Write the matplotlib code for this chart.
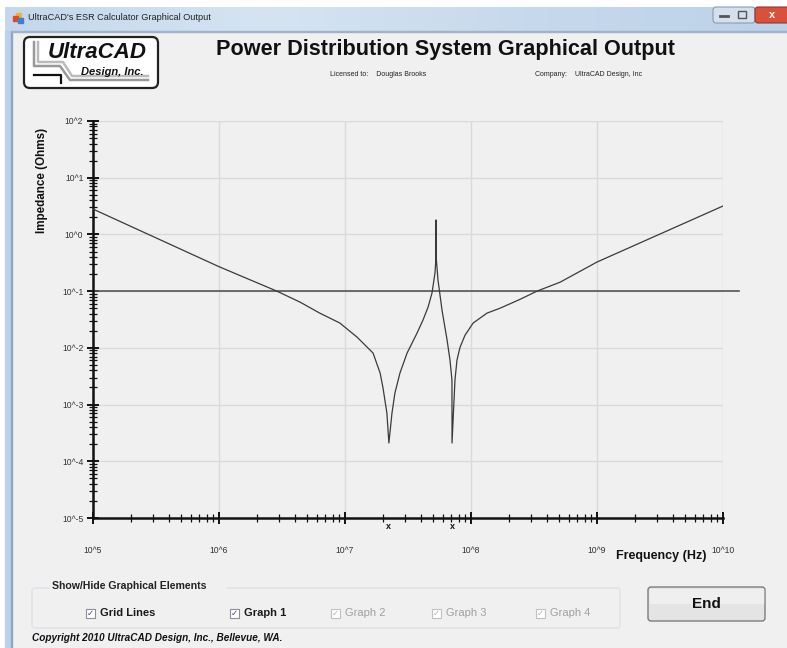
import numpy as np
import matplotlib
matplotlib.use('Agg')
import matplotlib.pyplot as plt
from matplotlib.patches import Rectangle, FancyBboxPatch
from matplotlib.ticker import FixedLocator, LogLocator, NullFormatter

plt.rcParams['font.family'] = ['Liberation Sans', 'DejaVu Sans']

# impedance curve (Hz, Ohms)
freq_hz = [1.0e5, 1.0e6, 2.88e6, 4.4e6, 6.3e6, 9.1e6, 1.245e7, 1.67e7, 1.9e7, 2.0e7,
           2.15e7, 2.23e7, 2.36e7, 2.49e7, 2.73e7, 3.11e7, 3.73e7, 4.16e7, 4.56e7,
           4.9e7, 5.18e7, 5.27e7, 5.27e7, 5.3e7, 5.47e7, 5.89e7, 6.46e7, 6.81e7,
           7.06e7, 7.07e7, 7.46e7, 7.74e7, 8.18e7, 8.96e7, 1.04e8, 1.34e8, 1.7e8,
           2.45e8, 3.34e8, 5.1e8, 1.0e9, 1.0e10]
impedance = [2.8, 0.27, 0.1, 0.064, 0.041, 0.0274, 0.0155, 0.0081, 0.0036, 0.0020,
             7.1e-4, 2.1e-4, 7.1e-4, 0.0016, 0.0036, 0.0081, 0.0182, 0.031, 0.052,
             0.092, 0.21, 0.38, 1.8, 0.38, 0.157, 0.046, 0.0137, 0.0061,
             0.0027, 2.1e-4, 0.0027, 0.0061, 0.0102, 0.0167, 0.0274, 0.041, 0.050,
             0.0717, 0.1, 0.144, 0.326, 3.17]
target_z = 0.1
resonances = [2.23e7, 7.06e7]

x_decades = [5, 6, 7, 8, 9, 10]
y_decades = [-5, -4, -3, -2, -1, 0, 1, 2]
x_labels = ['10^%d' % d for d in x_decades]
y_labels = ['10^%d' % d for d in y_decades]

W, H = 787, 648
fig = plt.figure(figsize=(W / 100, H / 100), dpi=100)
fig.patch.set_facecolor('#f0f0f0')

# window chrome drawn in pixel coordinates
bg = fig.add_axes([0, 0, 1, 1])
bg.set_xlim(0, W)
bg.set_ylim(H, 0)
bg.axis('off')
bg.add_patch(Rectangle((0, 0), W, 7, color='white'))
bg.add_patch(Rectangle((0, 0), 5, H, color='white'))
grad = np.linspace(0, 1, 200).reshape(1, -1)
bg.imshow(grad, extent=(5, W, 31, 7), cmap=matplotlib.colors.LinearSegmentedColormap.from_list(
    'tb', ['#c4d7ec', '#d6e4f2', '#c7d9ec', '#bcd2e9']), aspect='auto', zorder=1)
bg.add_patch(Rectangle((5, 31), 6, H - 31, color='#bcd2ea', zorder=1))
bg.add_patch(Rectangle((11, 31), 1, H - 31, color='#8ea8c4', zorder=1))
bg.add_patch(Rectangle((12, 31), W - 12, 1, color='#9fb3c9', zorder=1))
bg.add_patch(Rectangle((16, 13), 5, 5, color='#f2b233', zorder=2))
bg.add_patch(Rectangle((13, 16), 5, 5, color='#e04a2a', zorder=2))
bg.add_patch(Rectangle((18, 18), 5, 5, color='#3d7fd0', zorder=2))
bg.text(28, 18, "UltraCAD's ESR Calculator Graphical Output", fontsize=6.6,
        va='center', ha='left', color='#222222', zorder=3)
bg.add_patch(FancyBboxPatch((713, 7), 42, 16, boxstyle='round,pad=0,rounding_size=3',
                            fc='#d5e0ec', ec='#8a9bb0', lw=0.8, zorder=2))
bg.plot([720, 728], [16, 16], color='#555555', lw=2, zorder=3)
bg.add_patch(Rectangle((738, 11), 8, 7, fc='none', ec='#555555', lw=1, zorder=3))
bg.add_patch(FancyBboxPatch((755, 7), 40, 16, boxstyle='round,pad=0,rounding_size=3',
                            fc='#d9503c', ec='#8a3a2e', lw=0.8, zorder=2))
bg.text(772, 15, 'x', fontsize=8, fontweight='bold', color='white', ha='center',
        va='center', zorder=3)

# logo
bg.add_patch(FancyBboxPatch((24, 37), 134, 51, boxstyle='round,pad=0,rounding_size=6',
                            fc='white', ec='#222222', lw=1.6, zorder=2))
bg.plot([34, 34, 60, 70, 148], [42, 66, 66, 80, 80], color='#999999', lw=1.8, zorder=3)
bg.plot([38, 38, 63, 72, 148], [42, 62, 62, 76, 76], color='#bbbbbb', lw=1.8, zorder=3)
bg.plot([34, 61, 61], [75, 75, 83], color='#111111', lw=1.6, zorder=3)
bg.text(97, 53, 'UltraCAD', fontsize=16, fontweight='bold', style='italic',
        ha='center', va='center', color='#111111', zorder=4)
bg.text(112, 72, 'Design, Inc.', fontsize=8, fontweight='bold', style='italic',
        ha='center', va='center', color='#111111', zorder=4)

bg.text(445, 50, 'Power Distribution System Graphical Output', fontsize=15.6,
        fontweight='bold', ha='center', va='center', color='#111111')
bg.text(330, 75, 'Licensed to:    Douglas Brooks', fontsize=5, ha='left', va='center',
        color='#222222')
bg.text(535, 75, 'Company:    UltraCAD Design, Inc', fontsize=5, ha='left', va='center',
        color='#222222')

# bottom controls
bg.add_patch(FancyBboxPatch((32, 588), 588, 40, boxstyle='round,pad=0,rounding_size=3',
                            fc='none', ec='#dde3ea', lw=1))
bg.add_patch(Rectangle((50, 581), 176, 12, color='#f0f0f0'))
bg.text(52, 586, 'Show/Hide Graphical Elements', fontsize=7.6, fontweight='bold',
        ha='left', va='center', color='#222222')
checks = [('Grid Lines', 86, True), ('Graph 1', 230, True), ('Graph 2', 331, False),
          ('Graph 3', 432, False), ('Graph 4', 536, False)]
for name, cx, on in checks:
    col = '#1a1a1a' if on else '#a0a0a0'
    bg.add_patch(Rectangle((cx, 609), 9, 9, fc='white', ec='#8f8f8f' if on else '#c0c0c0',
                           lw=0.8))
    bg.text(cx + 4.5, 613.5, '\u2713', fontsize=6, ha='center', va='center',
            color='#2b4a9a' if on else '#b0b0b0', family='DejaVu Sans')
    bg.text(cx + 14, 613.5, name, fontsize=8, fontweight='bold' if on else 'normal',
            ha='left', va='center', color=col)
bg.add_patch(FancyBboxPatch((648, 587), 117, 34, boxstyle='round,pad=0,rounding_size=3',
                            fc='#e4e4e4', ec='#707070', lw=0.9))
bg.add_patch(Rectangle((650, 589), 113, 14, color='#efefef'))
bg.text(706, 604, 'End', fontsize=11, fontweight='bold', ha='center', va='center',
        color='#111111')
bg.text(32, 638, 'Copyright 2010 UltraCAD Design, Inc., Bellevue, WA.', fontsize=7.2,
        fontweight='bold', style='italic', ha='left', va='center', color='#111111')

# plot area
x0, x1, ytop, ybot = 93, 723, 121, 518
ax = fig.add_axes([x0 / W, (H - ybot) / H, (x1 - x0) / W, (ybot - ytop) / H])
ax.set_facecolor('none')
ax.set_xscale('log')
ax.set_yscale('log')
ax.set_xlim(1e5, 1e10)
ax.set_ylim(1e-5, 1e2)

for d in x_decades[1:]:
    ax.axvline(10.0 ** d, color='#dadada', lw=1, zorder=0)
for d in y_decades[1:]:
    ax.axhline(10.0 ** d, color='#dadada', lw=1, zorder=0)

ax.axhline(target_z, xmax=1.026, color='#555555', lw=1.2, clip_on=False, zorder=2)
ax.plot(freq_hz, impedance, color='#3a3a3a', lw=0.9, zorder=3)
for f in resonances:
    ax.text(f, -0.022, 'x', transform=ax.get_xaxis_transform(), fontsize=6.5,
            fontweight='bold', ha='center', va='center', color='#111111')

for s in ['top', 'right']:
    ax.spines[s].set_visible(False)
for s in ['left', 'bottom']:
    ax.spines[s].set_linewidth(1.8)
    ax.spines[s].set_color('#111111')

ax.xaxis.set_major_locator(FixedLocator([10.0 ** d for d in x_decades]))
ax.yaxis.set_major_locator(FixedLocator([10.0 ** d for d in y_decades]))
ax.set_xticklabels(x_labels)
ax.set_yticklabels(y_labels)
ax.xaxis.set_minor_locator(LogLocator(base=10, subs=np.arange(2, 10), numticks=20))
ax.yaxis.set_minor_locator(LogLocator(base=10, subs=np.arange(2, 10), numticks=20))
ax.xaxis.set_minor_formatter(NullFormatter())
ax.yaxis.set_minor_formatter(NullFormatter())
ax.tick_params(axis='both', which='major', direction='inout', length=8, width=1.4,
               color='#111111', labelsize=6.2, labelcolor='#333333')
ax.tick_params(axis='both', which='minor', direction='inout', length=6, width=0.9,
               color='#111111')
ax.tick_params(axis='x', which='major', pad=16)
ax.tick_params(axis='y', which='major', pad=3)

fig.text(42 / W, (H - 180) / H, 'Impedance (Ohms)', rotation=90, fontsize=8.4,
         fontweight='bold', ha='center', va='center', color='#111111')
fig.text(661 / W, (H - 556) / H, 'Frequency (Hz)', fontsize=9, fontweight='bold',
         ha='center', va='center', color='#111111')

fig.savefig('out.png', dpi=100, facecolor=fig.get_facecolor())
